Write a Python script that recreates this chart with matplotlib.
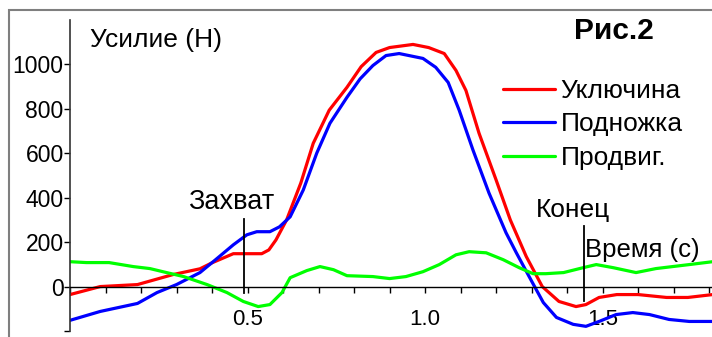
import numpy as np
import matplotlib
matplotlib.use('Agg')
import matplotlib.pyplot as plt
from matplotlib.patches import Rectangle
from matplotlib.ticker import MultipleLocator, FixedLocator

# данные (время в секундах, усилие в Н)
t_red = [0.0, 0.085, 0.19, 0.29, 0.366, 0.40, 0.46, 0.54, 0.56, 0.58, 0.61, 0.65, 0.685, 0.73, 0.78,
         0.82, 0.862, 0.90, 0.966, 1.01, 1.054, 1.087, 1.115, 1.152, 1.20, 1.24, 1.285, 1.33, 1.377,
         1.425, 1.453, 1.49, 1.54, 1.60, 1.68, 1.74, 1.81]
f_red = [-36, 0, 9, 54, 80, 107, 148, 148, 165, 210, 300, 466, 645, 794, 897,
         990, 1054, 1076, 1090, 1076, 1049, 973, 883, 690, 480, 300, 135, 0, -67,
         -90, -81, -49, -36, -36, -49, -49, -36]

t_blue = [0.0, 0.085, 0.19, 0.245, 0.30, 0.366, 0.41, 0.46, 0.498, 0.526, 0.563, 0.59, 0.62, 0.657,
          0.695, 0.732, 0.78, 0.817, 0.853, 0.89, 0.927, 0.994, 1.03, 1.065, 1.096, 1.135, 1.18,
          1.228, 1.257, 1.293, 1.333, 1.37, 1.417, 1.453, 1.49, 1.538, 1.585, 1.632, 1.687, 1.744, 1.81]
f_blue = [-152, -112, -76, -27, 9, 63, 121, 188, 233, 247, 247, 269, 314, 435,
          601, 735, 852, 935, 995, 1040, 1049, 1027, 987, 919, 794, 614, 421,
          242, 152, 45, -72, -139, -170, -179, -157, -126, -117, -126, -148, -157, -157]

t_green = [0.0, 0.046, 0.11, 0.178, 0.225, 0.272, 0.32, 0.386, 0.442, 0.488, 0.53, 0.563, 0.597,
           0.62, 0.667, 0.704, 0.742, 0.78, 0.853, 0.9, 0.946, 0.994, 1.04, 1.087, 1.124, 1.172,
           1.22, 1.265, 1.304, 1.34, 1.39, 1.445, 1.482, 1.53, 1.594, 1.65, 1.744, 1.81]
f_green = [112, 108, 108, 90, 81, 63, 45, 9, -27, -67, -90, -81, -27,
           40, 72, 90, 76, 49, 45, 36, 45, 67, 99, 143, 157, 152,
           121, 85, 58, 58, 63, 85, 99, 85, 63, 81, 99, 112]

labels = ['Уключина', 'Подножка', 'Продвиг.']
x_ticks = [0.5, 1.0, 1.5]
x_tick_labels = ['0.5', '1.0', '1.5']
y_ticks = [-200, 0, 200, 400, 600, 800, 1000]
y_tick_labels = ['', '0', '200', '400', '600', '800', '1000']

# отметки: захват и конец гребка
t_catch = 0.49
t_finish = 1.448

W, H = 712, 337


def px(x, y):
    # пиксели картинки -> координаты фигуры
    return x / W, 1 - y / H


def main():
    plt.rcParams['font.family'] = ['Liberation Sans', 'DejaVu Sans']

    fig = plt.figure(figsize=(W / 100, H / 100), dpi=100)
    ax = fig.add_axes([70 / W, 6 / H, (W - 70) / W, 311 / H])

    style = dict(lw=2.3, solid_joinstyle='round', solid_capstyle='round')
    ax.plot(t_red, f_red, color='#ff0000', label=labels[0], **style)
    ax.plot(t_blue, f_blue, color='#0000ff', label=labels[1], **style)
    ax.plot(t_green, f_green, color='#00ff00', label=labels[2], **style)

    ax.set_xlim(0, 1.808)
    ax.set_ylim(-200, 1200)

    ax.spines['top'].set_visible(False)
    ax.spines['right'].set_visible(False)
    ax.spines['bottom'].set_position(('data', 0))
    ax.spines['left'].set_color('#333333')
    ax.spines['left'].set_linewidth(1.2)
    ax.spines['bottom'].set_linewidth(1.0)

    ax.xaxis.set_major_locator(FixedLocator(x_ticks))
    ax.set_xticklabels(x_tick_labels)
    ax.xaxis.set_minor_locator(MultipleLocator(0.1))
    ax.tick_params(axis='x', which='both', direction='out', length=4.5, width=1, pad=11.5, labelsize=16)

    ax.set_yticks(y_ticks)
    ax.set_yticklabels(y_tick_labels)
    ax.tick_params(axis='y', direction='out', length=4, width=1, pad=0.5, labelsize=16.5)
    ax.patch.set_alpha(0)

    # вертикальные отметки
    ax.plot([t_catch, t_catch], [306, -27], color='black', lw=1.3)
    ax.plot([t_finish, t_finish], [274, -67], color='black', lw=1.3)

    fig.text(*px(90, 47), 'Усилие (Н)', fontsize=19, va='baseline', ha='left')
    fig.text(*px(614, 31), 'Рис.2', fontsize=21.5, fontweight='bold', va='center', ha='center')
    fig.text(*px(231, 209), 'Захват', fontsize=19.5, va='baseline', ha='center')
    fig.text(*px(573, 217), 'Конец', fontsize=19, va='baseline', ha='center')
    fig.text(*px(585, 257), 'Время (с)', fontsize=18.5, va='baseline', ha='left')

    ax.legend(loc='upper left', bbox_to_anchor=px(503, 79), bbox_transform=fig.transFigure,
              frameon=False, fontsize=19, handlelength=1.98, handletextpad=0.2,
              labelspacing=0.36, borderpad=0, borderaxespad=0)

    # серая рамка вокруг рисунка
    x0, y0 = px(9, 10)
    fig.patches.append(Rectangle((x0, -0.2), 1.5, y0 + 0.2, transform=fig.transFigure,
                                 fill=False, edgecolor='#7f7f7f', lw=1.5))

    fig.savefig('out.png', dpi=100)


if __name__ == '__main__':
    main()
